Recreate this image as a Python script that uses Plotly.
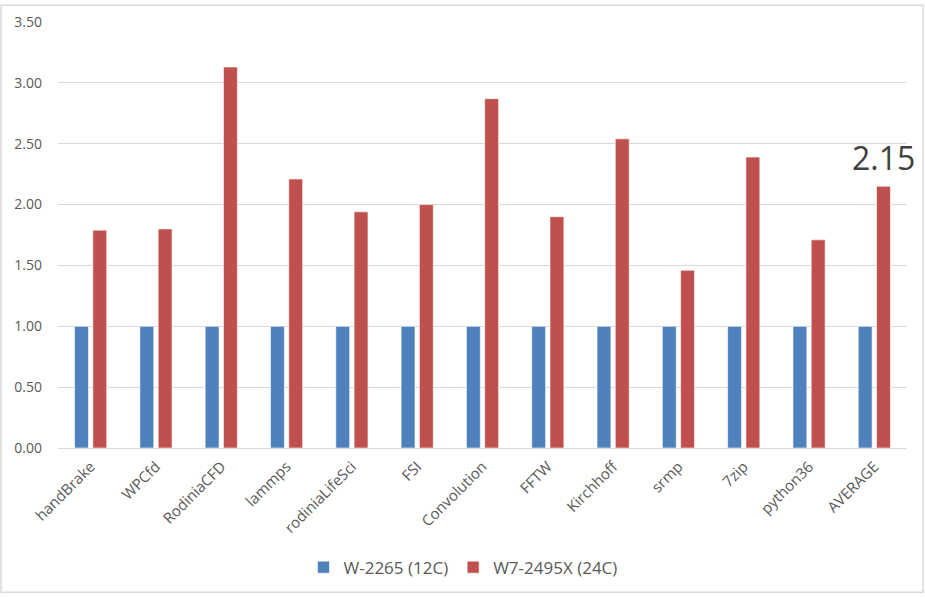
import plotly.graph_objects as go

categories = ["handBrake", "WPCfd", "RodiniaCFD", "lammps", "rodiniaLifeSci", "FSI",
              "Convolution", "FFTW", "Kirchhoff", "srmp", "7zip", "python36", "AVERAGE"]
w2265 = [1.00] * 13
w7_2495x = [1.79, 1.80, 3.13, 2.21, 1.94, 2.00, 2.87, 1.90, 2.54, 1.46, 2.39, 1.71, 2.15]
series_names = ["W-2265 (12C)", "W7-2495X (24C)"]
y_ticks = [0, 0.5, 1.0, 1.5, 2.0, 2.5, 3.0, 3.5]

FONT = "Open Sans"
GRAY = "#595959"

fig = go.Figure()
fig.add_trace(go.Bar(x=categories, y=w2265, name=series_names[0],
                     marker=dict(color="#4F81BD", line=dict(color="white", width=0.6))))
fig.add_trace(go.Bar(x=categories, y=w7_2495x, name=series_names[1],
                     marker=dict(color="#C0504D", line=dict(color="white", width=0.6))))

fig.add_annotation(x="AVERAGE", y=w7_2495x[-1], text=f"{w7_2495x[-1]:.2f}",
                   showarrow=False, xshift=9, yshift=5, yanchor="bottom",
                   font=dict(family=FONT, size=32, color="#404040"))

# outer chart border
ml, mr, mt, mb = 58, 18, 18, 148
W, H = 925, 597
pw, ph = W - ml - mr, H - mt - mb
fig.add_shape(type="rect", xref="paper", yref="paper",
              x0=(1 - ml) / pw, x1=(W - 2 - ml) / pw,
              y0=(ph + mt - (H - 2)) / ph, y1=(ph + mt - 1) / ph,
              line=dict(color="#d9d9d9", width=1.5), fillcolor="rgba(0,0,0,0)", layer="below")

fig.update_layout(
    width=W, height=H,
    margin=dict(l=ml, r=mr, t=mt, b=mb),
    paper_bgcolor="white", plot_bgcolor="white",
    barmode="group", bargap=0.44, bargroupgap=0.24,
    font=dict(family=FONT, color=GRAY),
    legend=dict(orientation="h", x=(463 - ml) / pw, xanchor="center",
                y=(ph + mt - 570) / ph, yanchor="middle",
                font=dict(family=FONT, size=17, color=GRAY),
                itemwidth=30, traceorder="normal"),
    showlegend=True,
)
fig.update_xaxes(tickangle=-45, tickfont=dict(family=FONT, size=15, color=GRAY),
                 showgrid=False, showline=False, ticks="", range=[-0.5, 12.5],
                 ticklabelstandoff=6)
fig.update_yaxes(range=[0, 3.5], tickvals=y_ticks, tickformat=".2f",
                 tickfont=dict(family=FONT, size=14, color=GRAY),
                 showgrid=True, gridcolor="#d9d9d9", gridwidth=1,
                 zeroline=True, zerolinecolor="#d9d9d9", zerolinewidth=1,
                 showline=False, ticks="", ticklabelstandoff=15)

fig.write_html("out.html", config={"displayModeBar": False},
               post_script="document.body.style.margin='0';document.body.style.overflow='hidden';")
